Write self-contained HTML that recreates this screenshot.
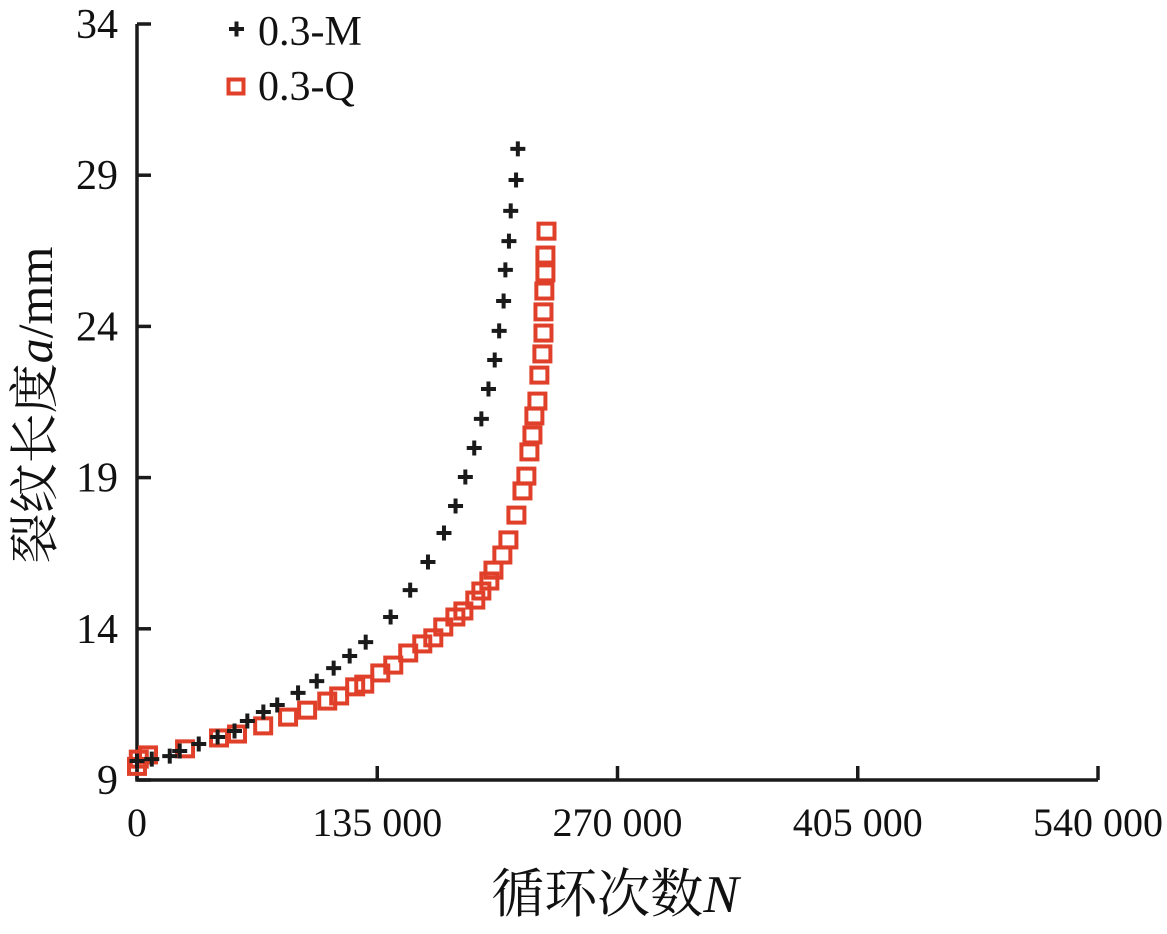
<!DOCTYPE html>
<html><head><meta charset="utf-8"><style>
body{margin:0;background:#fff;}
svg{display:block;font-family:"Liberation Serif","Noto Serif CJK SC",serif;}
</style></head><body>
<svg id="chart" width="1167" height="934" viewBox="0 0 1167 934">
<g id="axes"></g>
<g id="marks"></g>
<g>
  <g>
    <path d="M229 29h15M236.5 21.5v15" stroke="#1a1a1a" stroke-width="4"/>
    <text x="258" y="45" font-size="42" fill="#111">0.3-M</text>
  </g>
  <g>
    <rect x="228.5" y="79.5" width="15" height="14" fill="none" stroke="#e0402a" stroke-width="4"/>
    <text x="258" y="100" font-size="42" fill="#111">0.3-Q</text>
  </g>
</g>
<text x="615" y="912" font-size="53" text-anchor="middle" fill="#111">循环次数<tspan font-style="italic">N</tspan></text>
<text transform="translate(52,405) rotate(-90)" font-size="50" text-anchor="middle" fill="#111">裂纹长度<tspan font-style="italic">a</tspan>/mm</text>
</svg>
<script>
const xTicks=[0,135000,270000,405000,540000];
const xTickLabels=["0","135 000","270 000","405 000","540 000"];
const yTicks=[9,14,19,24,29,34];
const yTickLabels=["9","14","19","24","29","34"];
const mN=[214000,213000,210000,209000,207000,206000,203500,201000,197500,193500,189500,184500,179000,172500,163500,153500,142500,128500,119500,110500,101000,90500,78800,71000,62000,54800,45300,34700,24000,18400,8300,0];
const mA=[29.87,28.84,27.82,26.82,25.87,24.84,23.85,22.89,21.93,20.94,19.98,19.02,18.06,17.17,16.21,15.28,14.39,13.56,13.10,12.70,12.27,11.88,11.48,11.25,10.95,10.62,10.42,10.19,9.96,9.79,9.69,9.63];
const qN=[230100,229500,229500,228900,228400,228400,227800,226100,225000,223300,222200,220500,218800,216600,213200,208700,205300,200300,198000,193500,190100,183400,178900,172100,166500,160300,152400,144000,136700,127700,122600,113600,106900,95600,84900,70900,56200,46100,27000,6200,1000,0];
const qA=[27.15,26.36,25.77,25.17,24.48,23.78,23.09,22.39,21.53,21.04,20.41,19.85,19.05,18.56,17.76,16.94,16.44,15.94,15.58,15.25,14.95,14.59,14.39,14.06,13.70,13.50,13.20,12.80,12.54,12.17,12.08,11.78,11.61,11.31,11.08,10.79,10.52,10.39,10.03,9.83,9.69,9.45];
const X0=137,X1=1098,Y0=780,Y1=24;
function xs(v){return X0+(v-0)/(540000-0)*(X1-X0);}
function ys(v){return Y0-(v-9)/(34-9)*(Y0-Y1);}
const NS="http://www.w3.org/2000/svg";
function mk(t,a,p){const e=document.createElementNS(NS,t);for(const k in a)e.setAttribute(k,a[k]);p.appendChild(e);return e;}
const ax=document.getElementById('axes');
let e=mk('path',{d:`M${X0} ${Y1}V${Y0}H${X1}`,fill:'none',stroke:'#1a1a1a','stroke-width':3.5},ax);


yTicks.forEach((v,i)=>{
  const y=ys(v);
  let t=mk('line',{x1:X0,x2:X0+14,y1:y,y2:y,stroke:'#1a1a1a','stroke-width':3.5},ax);
  
  
  let l=mk('text',{x:118,y:y+14,'font-size':42,'text-anchor':'end',fill:'#111'},ax);
  l.textContent=yTickLabels[i];
  
  
});
xTicks.forEach((v,i)=>{
  const x=xs(v);
  let t=mk('line',{x1:x,x2:x,y1:Y0,y2:Y0-14,stroke:'#1a1a1a','stroke-width':3.5},ax);
  
  
  let l=mk('text',{x:x,y:836,'font-size':40,'text-anchor':'middle',fill:'#111'},ax);
  l.textContent=xTickLabels[i];
  
  
});
const mk2=document.getElementById('marks');
qN.forEach((n,i)=>{
  const x=xs(n),y=ys(qA[i]);
  let r=mk('rect',{x:x-8,y:y-7.5,width:16,height:15,fill:'none',stroke:'#e0402a','stroke-width':4},mk2);
  
  
});
mN.forEach((n,i)=>{
  const x=xs(n),y=ys(mA[i]);
  let p=mk('path',{d:`M${x-7.5} ${y}h15M${x} ${y-7.5}v15`,stroke:'#1a1a1a','stroke-width':4},mk2);
  
  
});
</script>
</body></html>
